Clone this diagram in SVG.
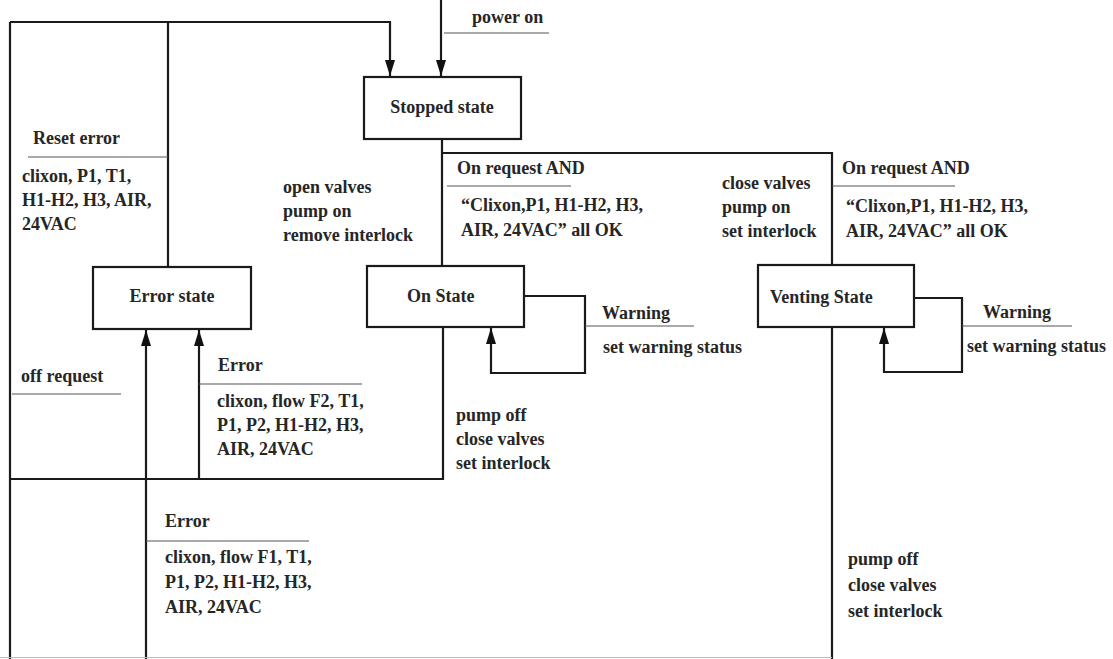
<svg xmlns="http://www.w3.org/2000/svg" width="1113" height="659" viewBox="0 0 1113 659">
<defs>
<style>
text{font-family:'Liberation Serif','Times New Roman',serif;font-size:18px;font-weight:bold;fill:#262626}
.c{text-anchor:middle}
.box{fill:#fff;stroke:#1a1a1a;stroke-width:2.2}
.ln{fill:none;stroke:#1a1a1a;stroke-width:2.2}
.ul{fill:none;stroke:#555;stroke-width:1.2}
</style>
<marker id="ar" viewBox="0 0 16 10" refX="16" refY="5" markerWidth="16" markerHeight="10" orient="auto" markerUnits="userSpaceOnUse">
<path d="M0,0 L16,5 L0,10 Z" fill="#111"/>
</marker>
</defs>
<rect width="1113" height="659" fill="#fff"/>

<g id="connectors">
<line class="ln" x1="441" y1="0" x2="441" y2="76" marker-end="url(#ar)"/>
<path class="ln" d="M168,267 V22 H390 V76" marker-end="url(#ar)"/>
<path class="ln" d="M10,22 V659"/>
<path class="ln" d="M10,22 H168"/>
<line class="ln" x1="442" y1="139" x2="442" y2="266"/>
<path class="ln" d="M442,153 H832 V265"/>
<path class="ln" d="M524,296 H585 V373 H491 V328" marker-end="url(#ar)"/>
<path class="ln" d="M914,298 H962 V372 H884 V328" marker-end="url(#ar)"/>
<path class="ln" d="M443,327 V479 H10"/>
<line class="ln" x1="199" y1="479" x2="199" y2="330" marker-end="url(#ar)"/>
<line class="ln" x1="146" y1="659" x2="146" y2="330" marker-end="url(#ar)"/>
<line class="ln" x1="832" y1="327" x2="832" y2="659"/>
<line x1="0" y1="657.5" x2="832" y2="657.5" stroke="#bbb" stroke-width="1"/>
</g>

<g id="labels">
<text x="472" y="23">power on</text>
<line class="ul" x1="444" y1="33" x2="549" y2="33"/>

<text x="33" y="144">Reset error</text>
<line class="ul" x1="28" y1="157" x2="168" y2="157"/>
<text x="22" y="182">clixon, P1, T1,</text>
<text x="22" y="206">H1-H2, H3, AIR,</text>
<text x="22" y="230">24VAC</text>

<text x="283" y="193">open valves</text>
<text x="283" y="217">pump on</text>
<text x="283" y="241">remove interlock</text>

<text x="457" y="174">On request AND</text>
<line class="ul" x1="447" y1="186" x2="571" y2="186"/>
<text x="461" y="211">“Clixon,P1, H1-H2, H3,</text>
<text x="461" y="236">AIR, 24VAC” all OK</text>

<text x="722" y="189">close valves</text>
<text x="722" y="213">pump on</text>
<text x="722" y="237">set interlock</text>

<text x="842" y="174">On request AND</text>
<line class="ul" x1="832" y1="186" x2="955" y2="186"/>
<text x="846" y="212">“Clixon,P1, H1-H2, H3,</text>
<text x="846" y="237">AIR, 24VAC” all OK</text>

<text x="602" y="319">Warning</text>
<line class="ul" x1="585" y1="326" x2="694" y2="326"/>
<text x="603" y="353">set warning status</text>

<text x="983" y="318">Warning</text>
<line class="ul" x1="962" y1="326" x2="1072" y2="326"/>
<text x="967" y="352">set warning status</text>

<text x="21" y="382">off request</text>
<line class="ul" x1="12" y1="394" x2="121" y2="394"/>

<text x="218" y="371">Error</text>
<line class="ul" x1="199" y1="384" x2="362" y2="384"/>
<text x="217" y="407">clixon, flow F2, T1,</text>
<text x="217" y="431">P1, P2,  H1-H2, H3,</text>
<text x="217" y="455">AIR, 24VAC</text>

<text x="456" y="421">pump off</text>
<text x="456" y="445">close valves</text>
<text x="456" y="469">set interlock</text>

<text x="165" y="527">Error</text>
<line class="ul" x1="146" y1="541" x2="309" y2="541"/>
<text x="165" y="563">clixon, flow F1, T1,</text>
<text x="165" y="588">P1, P2,  H1-H2, H3,</text>
<text x="165" y="613">AIR, 24VAC</text>

<text x="848" y="565">pump off</text>
<text x="848" y="591">close valves</text>
<text x="848" y="617">set interlock</text>
</g>

<g id="stopped-state">
<rect class="box" x="364" y="77" width="157" height="62"/>
<text class="c" x="442" y="113">Stopped state</text>
</g>
<g id="error-state">
<rect class="box" x="93" y="267" width="158" height="62"/>
<text class="c" x="172" y="302">Error state</text>
</g>
<g id="on-state">
<rect class="box" x="367" y="266" width="157" height="61"/>
<text x="407" y="302">On State</text>
</g>
<g id="venting-state">
<rect class="box" x="758" y="265" width="156" height="62"/>
<text x="770" y="303">Venting State</text>
</g>
</svg>
